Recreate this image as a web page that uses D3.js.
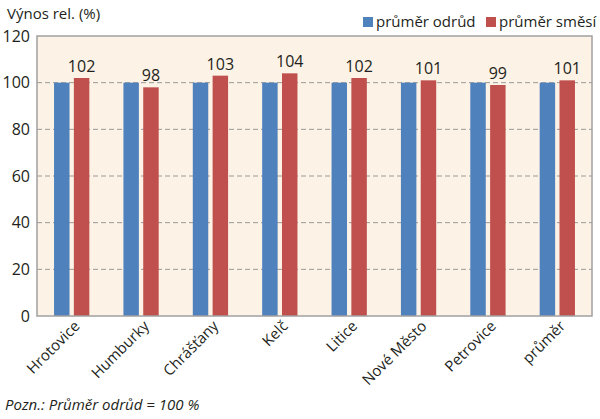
<!DOCTYPE html>
<html>
<head>
<meta charset="utf-8">
<script src="https://cdn.jsdelivr.net/npm/d3@7"></script>
<style>
  body { margin: 0; background: #fff; }
  text { font-family: "Open Sans", "Noto Sans", sans-serif; fill: #231f20; }
</style>
</head>
<body>
<div id="chart"></div>
<script>
// lokality a hodnoty
const categories = ["Hrotovice", "Humburky", "Chrášťany", "Kelč", "Litice", "Nové Město", "Petrovice", "průměr"];
const odrudy = [100, 100, 100, 100, 100, 100, 100, 100];
const smesi = [102, 98, 103, 104, 102, 101, 99, 101];
const seriesNames = ["průměr odrůd", "průměr směsí"];
const yTicks = [0, 20, 40, 60, 80, 100, 120];

const width = 600, height = 419;
const margin = { top: 36, right: 8, bottom: 103, left: 37 };
const colors = ["#4f81bd", "#c0504d"];

const svg = d3.select("#chart")
    .append("svg")
    .attr("width", width)
    .attr("height", height);

const x = d3.scaleBand()
    .domain(categories)
    .range([margin.left, width - margin.right])
    .paddingInner(0)
    .paddingOuter(0);

const x1 = d3.scaleBand()
    .domain([0, 1])
    .range([0, x.bandwidth()])
    .paddingInner(0.22)
    .paddingOuter(0.86);

const y = d3.scaleLinear()
    .domain([0, 120])
    .range([height - margin.bottom, margin.top]);

// pozadí
svg.append("rect")
    .attr("x", margin.left)
    .attr("y", margin.top)
    .attr("width", width - margin.left - margin.right)
    .attr("height", y(0) - margin.top)
    .attr("fill", "#fdf2e6");

// mřížka
svg.append("g")
    .selectAll("line")
    .data(yTicks.filter(d => d > 0 && d < 120))
    .enter()
    .append("line")
    .attr("x1", margin.left)
    .attr("x2", width - margin.right)
    .attr("y1", d => y(d))
    .attr("y2", d => y(d))
    .attr("stroke", "#9a9a9a")
    .attr("stroke-dasharray", "5,3")
    .attr("stroke-width", 1);

// sloupce
const data = categories.map((c, i) => ({ cat: c, values: [odrudy[i], smesi[i]] }));

const groups = svg.append("g")
    .selectAll("g")
    .data(data)
    .enter()
    .append("g")
    .attr("transform", d => `translate(${x(d.cat)},0)`);

groups.selectAll("rect")
    .data(d => d.values.map((v, k) => ({ k, v })))
    .enter()
    .append("rect")
    .attr("x", d => x1(d.k))
    .attr("width", x1.bandwidth())
    .attr("y", d => y(d.v))
    .attr("height", d => y(0) - y(d.v))
    .attr("fill", d => colors[d.k]);

// popisky hodnot směsí
groups.append("text")
    .attr("x", x1(1) + x1.bandwidth() / 2)
    .attr("y", d => y(d.values[1]) - 6)
    .attr("text-anchor", "middle")
    .style("font-size", "16px")
    .text(d => d.values[1]);

// rámeček
svg.append("rect")
    .attr("x", margin.left)
    .attr("y", margin.top)
    .attr("width", width - margin.left - margin.right)
    .attr("height", y(0) - margin.top)
    .attr("fill", "none")
    .attr("stroke", "#a0a0a0")
    .attr("stroke-width", 1.5);

// osa y
const yAxis = d3.axisLeft(y).tickValues(yTicks).tickSize(0).tickPadding(7);
svg.append("g")
    .attr("transform", `translate(${margin.left},0)`)
    .call(yAxis)
    .call(g => g.select(".domain").remove())
    .selectAll("text")
    .style("font-size", "16px")
    .style("font-family", "'Open Sans', sans-serif")
    .attr("fill", "#231f20");

// osa x
const xAxis = d3.axisBottom(x).tickSize(0).tickPadding(0);
svg.append("g")
    .attr("transform", `translate(0,${y(0)})`)
    .call(xAxis)
    .call(g => g.select(".domain").remove())
    .selectAll("text")
    .style("font-size", "15px")
    .style("font-family", "'Open Sans', sans-serif")
    .attr("fill", "#231f20")
    .attr("text-anchor", "end")
    .attr("dy", "0")
    .attr("transform", "translate(9,11) rotate(-45)");

// název osy
svg.append("text")
    .attr("x", 7)
    .attr("y", 19)
    .style("font-size", "15px")
    .text("Výnos rel. (%)");

// legenda
const legend = svg.append("g");
const legendX = [363, 486];
seriesNames.forEach((n, i) => {
    legend.append("rect")
        .attr("x", legendX[i])
        .attr("y", 17)
        .attr("width", 10)
        .attr("height", 10)
        .attr("fill", colors[i]);
    legend.append("text")
        .attr("x", legendX[i] + 13)
        .attr("y", 27)
        .style("font-size", "15px")
        .text(n);
});

// poznámka
svg.append("text")
    .attr("x", 5)
    .attr("y", 410)
    .style("font-size", "15px")
    .style("font-style", "italic")
    .text("Pozn.: Průměr odrůd = 100 %");
</script>
</body>
</html>
